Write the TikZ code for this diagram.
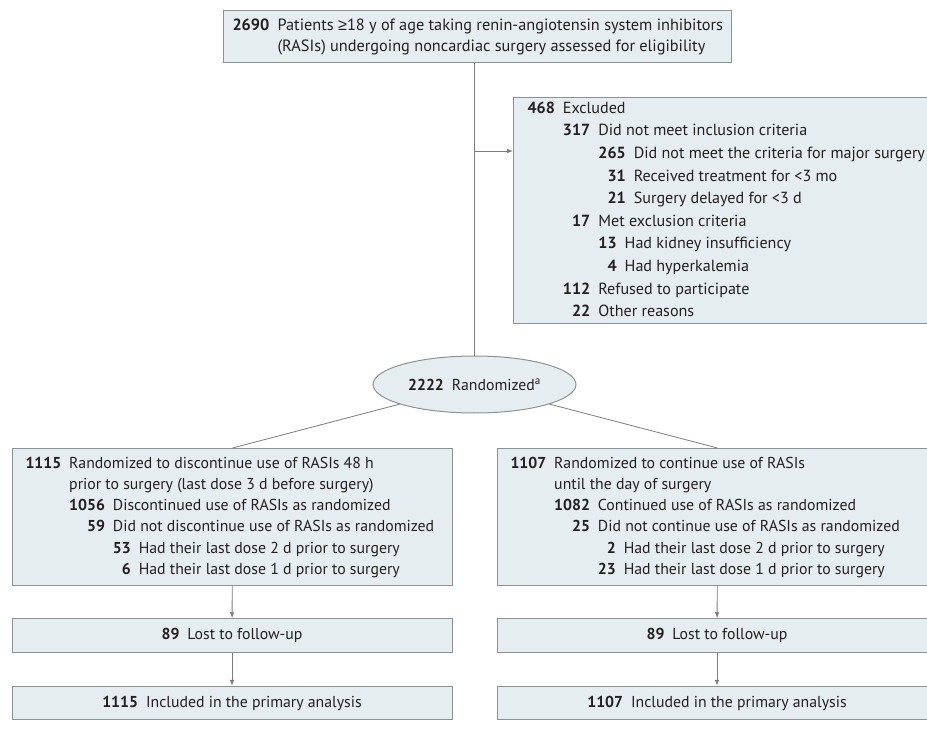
\documentclass[tikz,border=0pt]{standalone}
\usepackage{fontspec}
\setmainfont{PT Sans}
\newfontfamily\symfont{Liberation Sans}
\usepackage{calc}
\usetikzlibrary{arrows.meta,positioning,shapes.geometric,calc}
\definecolor{Panel}{HTML}{E6EDF1}
\definecolor{Edge}{HTML}{8C9194}
\definecolor{Link}{HTML}{7D7D7D}
\definecolor{Ink}{HTML}{231F20}
\newcommand\gapw{0.5em}
\newcommand\rn[2]{\makebox[\widthof{\textbf{#1}}][r]{\textbf{#2}}\hspace{\gapw}}
\newcommand\ind[1]{\hspace*{\widthof{\textbf{#1}}+\gapw}}
\newcommand\lines[2]{\makebox[#1][l]{\begin{tabular}{@{}l@{}}#2\end{tabular}}}

\begin{document}
\begin{tikzpicture}[x=1pt,y=-1pt,text=Ink,font=\fontsize{15.8}{21.2}\selectfont,box/.style={rectangle,draw=Edge,line width=1pt,fill=Panel,inner ysep=0pt},listbox/.style={box,anchor=north west,inner xsep=13pt},countbox/.style={box,minimum width=440pt,minimum height=33.5pt},link/.style={draw=Link,line width=0.8pt},flowline/.style={link,-{Latex[length=6pt,width=4.5pt]}}]
\useasboundingbox (0,0) rectangle (927,738);
\node[box,anchor=north west,inner xsep=9pt,minimum height=52pt,font=\fontsize{16.3}{21}\selectfont] (assess) at (223,10) {\lines{490pt}{\rn{2690}{2690}Patients {\symfont ≥}18 y of age taking renin-angiotensin system inhibitors\\\ind{2690}(RASIs) undergoing noncardiac surgery assessed for eligibility}};
\node[box,anchor=north west,inner xsep=14pt,minimum height=225pt,font=\fontsize{16.1}{22.6}\selectfont] (excl) at (513,97) {\lines{430pt}{\rn{468}{468}Excluded\\
\ind{468}\rn{317}{317}Did not meet inclusion criteria\\
\ind{468}\ind{317}\rn{265}{265}Did not meet the criteria for major surgery\\
\ind{468}\ind{317}\rn{265}{31}Received treatment for <3 mo\\
\ind{468}\ind{317}\rn{265}{21}Surgery delayed for <3 d\\
\ind{468}\rn{317}{17}Met exclusion criteria\\
\ind{468}\ind{317}\rn{13}{13}Had kidney insufficiency\\
\ind{468}\ind{317}\rn{13}{4}Had hyperkalemia\\
\ind{468}\rn{317}{112}Refused to participate\\
\ind{468}\rn{317}{22}Other reasons}};
\node[ellipse,draw=Edge,line width=1pt,fill=Panel,minimum width=203pt,minimum height=57pt,inner sep=0pt] (rand) at (474.5,384.5) {\textbf{2222}\hspace{\gapw}Randomized\textsuperscript{a}};
\node[listbox,minimum height=137pt] (disc) at (12,448) {\lines{414pt}{\rn{1115}{1115}Randomized to discontinue use of RASIs 48 h\\
\ind{1115}prior to surgery (last dose 3 d before surgery)\\
\ind{1115}\rn{1056}{1056}Discontinued use of RASIs as randomized\\
\ind{1115}\rn{1056}{59}Did not discontinue use of RASIs as randomized\\
\ind{1115}\ind{1056}\rn{53}{53}Had their last dose 2 d prior to surgery\\
\ind{1115}\ind{1056}\rn{53}{6}Had their last dose 1 d prior to surgery}};
\node[listbox,minimum height=137pt] (cont) at (497,448) {\lines{414pt}{\rn{1107}{1107}Randomized to continue use of RASIs\\
\ind{1107}until the day of surgery\\
\ind{1107}\rn{1082}{1082}Continued use of RASIs as randomized\\
\ind{1107}\rn{1082}{25}Did not continue use of RASIs as randomized\\
\ind{1107}\ind{1082}\rn{23}{2}Had their last dose 2 d prior to surgery\\
\ind{1107}\ind{1082}\rn{23}{23}Had their last dose 1 d prior to surgery}};
\node[countbox] (lostd) at (232,635.5) {\textbf{89}\hspace{\gapw}Lost to follow-up};
\node[countbox] (lostc) at (717,635.5) {\textbf{89}\hspace{\gapw}Lost to follow-up};
\node[countbox] (incd) at (232,703) {\textbf{1115}\hspace{\gapw}Included in the primary analysis};
\node[countbox] (incc) at (717,703) {\textbf{1107}\hspace{\gapw}Included in the primary analysis};
\coordinate (split) at (474.5,151);
\draw[link] (assess.south -| rand.north) -- (rand.north);
\draw[flowline] (split) -- (split -| excl.west);
\draw[link] (rand) -- (disc.north);
\draw[link] (rand) -- (cont.north);
\draw[flowline] (disc) -- (lostd);
\draw[flowline] (lostd) -- (incd);
\draw[flowline] (cont) -- (lostc);
\draw[flowline] (lostc) -- (incc);
\end{tikzpicture}
\end{document}
